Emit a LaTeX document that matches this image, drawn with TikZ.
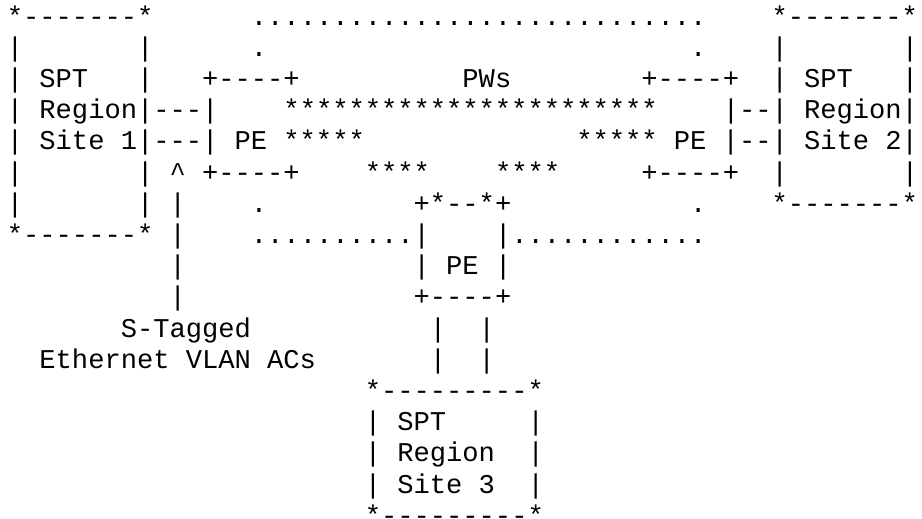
\documentclass[tikz,border=0pt]{standalone}
\usepackage{fontspec}
\setmonofont{Liberation Mono}
\def\cellify#1{\ifx#1\relax\else\hbox to 16.27pt{\hss#1\hss}\expandafter\cellify\fi}
\tikzset{txt/.style={anchor=base west, inner sep=0pt, outer sep=0pt,
  font=\ttfamily\fontsize{27.12pt}{31.2pt}\selectfont, text=black}}
\newcommand\runat[4]{\node[txt] (#1) at ({6.9pt+16.27pt*#3},{6.1pt-31.2pt*#2}) {\cellify #4\relax};}
\begin{document}
\begin{tikzpicture}
\fill[white] (0,0) rectangle (922pt,-519pt);
\useasboundingbox (0,0) rectangle (922pt,-519pt);
% line 1
\runat{la1}{1}{0}{*-------*}
\runat{lb1}{1}{15}{............................}
\runat{lc1}{1}{47}{*-------*}
% line 2
\runat{la2}{2}{0}{|}
\runat{lb2}{2}{8}{|}
\runat{lc2}{2}{15}{.}
\runat{ld2}{2}{42}{.}
\runat{le2}{2}{47}{|}
\runat{lf2}{2}{55}{|}
% line 3
\runat{la3}{3}{0}{|}
\runat{lb3}{3}{2}{SPT}
\runat{lc3}{3}{8}{|}
\runat{ld3}{3}{12}{+----+}
\runat{le3}{3}{28}{PWs}
\runat{lf3}{3}{39}{+----+}
\runat{lg3}{3}{47}{|}
\runat{lh3}{3}{49}{SPT}
\runat{li3}{3}{55}{|}
% line 4
\runat{la4}{4}{0}{|}
\runat{lb4}{4}{2}{Region|---|}
\runat{lc4}{4}{17}{***********************}
\runat{ld4}{4}{44}{|--|}
\runat{le4}{4}{49}{Region|}
% line 5
\runat{la5}{5}{0}{|}
\runat{lb5}{5}{2}{Site~1|---|~PE~*****}
\runat{lc5}{5}{35}{*****~PE~|--|~Site~2|}
% line 6
\runat{la6}{6}{0}{|}
\runat{lb6}{6}{8}{|}
\runat{lc6}{6}{10}{\textasciicircum}
\runat{ld6}{6}{12}{+----+}
\runat{le6}{6}{22}{****}
\runat{lf6}{6}{30}{****}
\runat{lg6}{6}{39}{+----+}
\runat{lh6}{6}{47}{|}
\runat{li6}{6}{55}{|}
% line 7
\runat{la7}{7}{0}{|}
\runat{lb7}{7}{8}{|}
\runat{lc7}{7}{10}{|}
\runat{ld7}{7}{15}{.}
\runat{le7}{7}{25}{+*--*+}
\runat{lf7}{7}{42}{.}
\runat{lg7}{7}{47}{*-------*}
% line 8
\runat{la8}{8}{0}{*-------*}
\runat{lb8}{8}{10}{|}
\runat{lc8}{8}{15}{..........|}
\runat{ld8}{8}{30}{|............}
% line 9
\runat{la9}{9}{10}{|}
\runat{lb9}{9}{25}{|}
\runat{lc9}{9}{27}{PE}
\runat{ld9}{9}{30}{|}
% line 10
\runat{la10}{10}{10}{|}
\runat{lb10}{10}{25}{+----+}
% line 11
\runat{la11}{11}{7}{S-Tagged}
\runat{lb11}{11}{26}{|}
\runat{lc11}{11}{29}{|}
% line 12
\runat{la12}{12}{2}{Ethernet~VLAN~ACs}
\runat{lb12}{12}{26}{|}
\runat{lc12}{12}{29}{|}
% line 13
\runat{la13}{13}{22}{*---------*}
% line 14
\runat{la14}{14}{22}{|}
\runat{lb14}{14}{24}{SPT}
\runat{lc14}{14}{32}{|}
% line 15
\runat{la15}{15}{22}{|}
\runat{lb15}{15}{24}{Region}
\runat{lc15}{15}{32}{|}
% line 16
\runat{la16}{16}{22}{|}
\runat{lb16}{16}{24}{Site~3}
\runat{lc16}{16}{32}{|}
% line 17
\runat{la17}{17}{22}{*---------*}
\end{tikzpicture}
\end{document}
